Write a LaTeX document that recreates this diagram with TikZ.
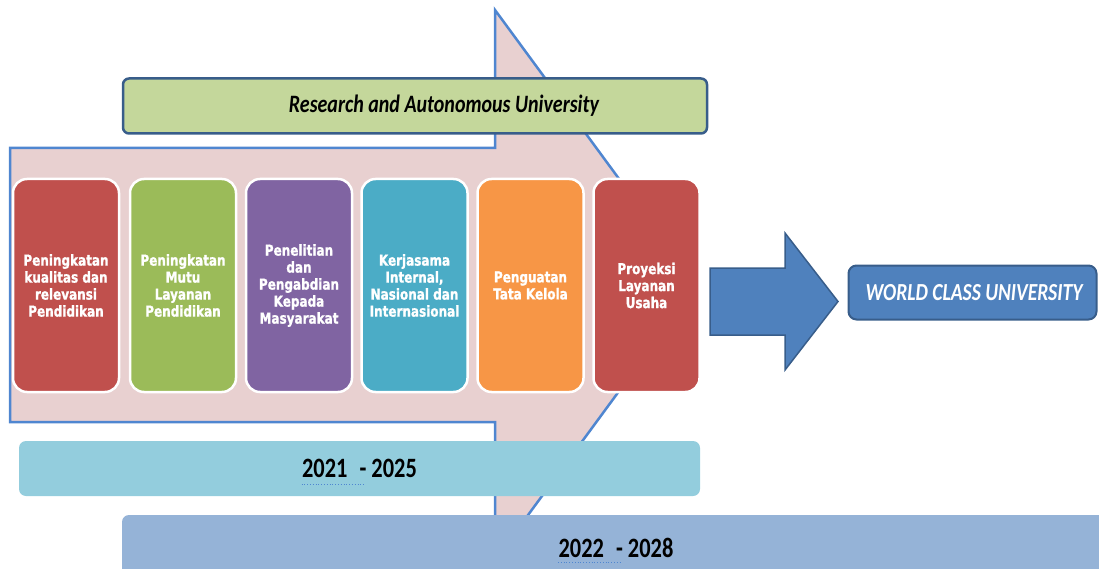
\documentclass[tikz,border=0pt]{standalone}
\usepackage{fontspec}
\newfontfamily\boxfont[FakeStretch=0.8, BoldFeatures={FakeBold=1.2}]{DejaVu Sans}
\newfontfamily\calfont[FakeStretch=0.8]{Carlito}
\definecolor{pinkbg}{HTML}{E8D0D0}
\definecolor{arrowline}{HTML}{4F86D0}
\definecolor{greenbar}{HTML}{C4D79B}
\definecolor{navy}{HTML}{385D8A}
\definecolor{cred}{HTML}{C0504D}
\definecolor{cgreen}{HTML}{9BBB59}
\definecolor{cpurple}{HTML}{8064A2}
\definecolor{cteal}{HTML}{4BACC6}
\definecolor{corange}{HTML}{F79646}
\definecolor{cblue}{HTML}{4F81BD}
\definecolor{bar1}{HTML}{93CDDD}
\definecolor{bar2}{HTML}{95B3D7}
\tikzset{
  stepbox/.style={draw=white, line width=2.5pt, rounded corners=14pt,
    minimum width=106pt, minimum height=213pt, inner sep=0pt,
    text=white, align=center,
    font=\boxfont\bfseries\fontsize{15}{17}\selectfont},
  yearbar/.style={rounded corners=7pt, inner sep=0pt,
    font=\calfont\bfseries\fontsize{28}{30}\selectfont},
}
\begin{document}
\begin{tikzpicture}[x=1pt,y=-1pt]
\useasboundingbox (0,0) rectangle (1099,569);
% background arrow
\draw[fill=pinkbg, draw=arrowline, line width=2.5pt, line join=miter]
  (10,148) -- (495,148) -- (495,10) -- (697,285) -- (495,560) -- (495,422) -- (10,422) -- cycle;
% research bar
\node[draw=navy, line width=2.5pt, fill=greenbar, rounded corners=6pt,
  minimum width=584pt, minimum height=55pt, inner sep=0pt,
  font=\calfont\bfseries\itshape\fontsize{25}{27}\selectfont] (rau) at (415,106) {\hspace{58pt}Research and Autonomous University};
% six boxes
\node[stepbox, fill=cred] (b1) at (66,285.5) {Peningkatan\\kualitas dan\\relevansi\\Pendidikan};
\node[stepbox, fill=cgreen] (b2) at (183,285.5) {Peningkatan\\Mutu\\Layanan\\Pendidikan};
\node[stepbox, fill=cpurple] (b3) at (299,285.5) {Penelitian\\dan\\Pengabdian\\Kepada\\Masyarakat};
\node[stepbox, fill=cteal] (b4) at (414.5,285.5) {Kerjasama\\Internal,\\Nasional dan\\Internasional};
\node[stepbox, fill=corange] (b5) at (530.5,285.5) {Penguatan\\Tata Kelola};
\node[stepbox, fill=cred] (b6) at (646.5,285.5) {Proyeksi\\Layanan\\Usaha};
% world class university
\node[draw=navy, line width=2pt, fill=cblue, rounded corners=8pt,
  minimum width=248pt, minimum height=54pt, inner sep=0pt, text=white,
  font=\calfont\bfseries\itshape\fontsize{24.5}{26}\selectfont] (wcu) at (972.5,292.5) {\hspace{3pt}WORLD CLASS UNIVERSITY};
% big blue arrow
\coordinate (a0) at (710,301.5);
\draw[fill=cblue, draw=navy, line width=1.5pt, line join=miter]
  (a0) ++(0,-33.5) -- ++(75,0) -- ++(0,-35) -- (838,301.5) -- (785,370) -- (785,335) -- (710,335) -- cycle;
% year bars
\node[yearbar, fill=bar1, minimum width=681pt, minimum height=55pt] (y1) at (359.5,468.5) {2021\hspace{0.25em} - 2025};
\draw[arrowline, dotted, line width=0.8pt] ([shift={(-58,16)}]y1.center) -- ([shift={(6,16)}]y1.center);
\node[yearbar, fill=bar2, minimum width=988pt, minimum height=65pt] (y2) at (616,547.5) {2022\hspace{0.25em} - 2028};
\draw[arrowline, dotted, line width=0.8pt] ([shift={(-58,15)}]y2.center) -- ([shift={(6,15)}]y2.center);
\end{tikzpicture}
\end{document}
